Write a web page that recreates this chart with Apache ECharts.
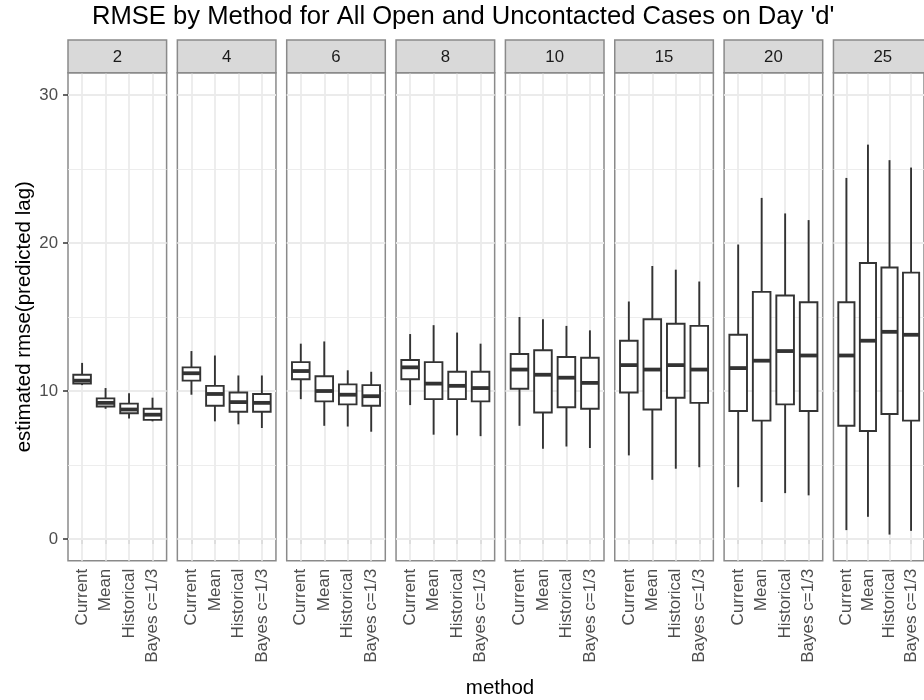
<!DOCTYPE html>
<html>
<head>
<meta charset="utf-8">
<script src="https://cdn.jsdelivr.net/npm/echarts@6/dist/echarts.min.js"></script>
<style>
html,body{margin:0;padding:0;background:#fff;}
#chart{width:924px;height:700px;}
</style>
</head>
<body>
<div id="chart"></div>
<script>
// ---- data ----
const methods = ['Current', 'Mean', 'Historical', 'Bayes c=1/3'];
const facets = ['2', '4', '6', '8', '10', '15', '20', '25'];
const yTicks = [0, 10, 20, 30];
const yMinor = [5, 15, 25];
// each row: [min whisker, Q1, median, Q3, max whisker] for Current, Mean, Historical, Bayes
const lag2  = [[10.4, 10.5, 10.7, 11.1, 11.9], [8.8, 8.95, 9.2, 9.5, 10.2], [8.15, 8.5, 8.75, 9.15, 9.85], [7.95, 8.05, 8.4, 8.8, 9.55]];
const lag4  = [[9.75, 10.7, 11.2, 11.6, 12.7], [7.95, 9.0, 9.8, 10.35, 12.4], [7.75, 8.6, 9.25, 9.9, 11.05], [7.5, 8.6, 9.2, 9.8, 11.05]];
const lag6  = [[9.45, 10.8, 11.35, 11.95, 13.2], [7.65, 9.3, 10.0, 11.0, 13.35], [7.6, 9.1, 9.75, 10.45, 11.4], [7.25, 9.0, 9.65, 10.4, 11.3]];
const lag8  = [[9.05, 10.8, 11.6, 12.1, 13.85], [7.05, 9.45, 10.5, 11.95, 14.45], [7.0, 9.45, 10.35, 11.3, 13.95], [6.95, 9.3, 10.2, 11.3, 13.2]];
const lag10 = [[7.65, 10.15, 11.45, 12.5, 15.0], [6.1, 8.55, 11.1, 12.75, 14.85], [6.25, 8.9, 10.9, 12.3, 14.4], [6.15, 8.8, 10.55, 12.25, 14.1]];
const lag15 = [[5.65, 9.9, 11.75, 13.4, 16.05], [4.0, 8.75, 11.45, 14.85, 18.45], [4.75, 9.55, 11.75, 14.55, 18.2], [4.85, 9.2, 11.45, 14.4, 17.4]];
const lag20 = [[3.5, 8.65, 11.55, 13.8, 19.9], [2.5, 8.0, 12.05, 16.7, 23.05], [3.1, 9.1, 12.7, 16.45, 22.0], [2.95, 8.65, 12.4, 16.0, 21.55]];
const lag25 = [[0.6, 7.65, 12.4, 16.0, 24.4], [1.5, 7.3, 13.4, 18.65, 26.65], [0.3, 8.45, 14.0, 18.35, 25.6], [0.55, 8.0, 13.8, 18.0, 25.1]];
const panels = [lag2, lag4, lag6, lag8, lag10, lag15, lag20, lag25];

// ---- layout / style ----
const FONT = '"Liberation Sans", Arial, Helvetica, sans-serif';
const LEFT0 = 68, STEP = 109.35, PW = 98.6, TOP = 72.7, PH = 488, STRIP_TOP = 40;
const Y_MIN = -1.466, Y_MAX = 31.51;
const BOX_W = 0.75;
const INK = '#333333';
const BORDER = '#8a8a8a';
const GRIDC = '#ebebeb';

const chart = echarts.init(document.getElementById('chart'), null, {renderer: 'canvas'});

const grids = [], xAxes = [], yAxes = [], series = [], graphics = [];

panels.forEach((pd, i) => {
  const left = LEFT0 + i * STEP;
  grids.push({left: left, top: TOP, width: PW, height: PH, show: true,
    backgroundColor: '#ffffff', borderColor: BORDER, borderWidth: 1.5, containLabel: false});
  xAxes.push({
    type: 'value', gridIndex: i, min: 0.4, max: 4.6,
    axisLine: {show: false},
    splitLine: {show: false},
    axisTick: {show: true, customValues: [1, 2, 3, 4], length: 5, lineStyle: {color: INK, width: 1.5}},
    axisLabel: {show: true, customValues: [1, 2, 3, 4], rotate: 90, margin: 8,
      formatter: v => methods[Math.round(v) - 1],
      color: '#4d4d4d', fontSize: 17, fontFamily: FONT}
  });
  yAxes.push({
    type: 'value', gridIndex: i, min: Y_MIN, max: Y_MAX,
    axisLine: {show: false},
    splitLine: {show: false},
    axisTick: {show: i === 0, customValues: yTicks, length: 5, lineStyle: {color: INK, width: 1.5}},
    axisLabel: {show: i === 0, customValues: yTicks, margin: 10,
      color: '#4d4d4d', fontSize: 16.8, fontFamily: FONT}
  });
  const lines = [];
  yTicks.forEach(v => lines.push({yAxis: v, lineStyle: {width: 1.8}}));
  yMinor.forEach(v => lines.push({yAxis: v, lineStyle: {width: 0.9}}));
  [1, 2, 3, 4].forEach(v => lines.push({xAxis: v, lineStyle: {width: 1.8}}));
  series.push({
    type: 'custom', xAxisIndex: i, yAxisIndex: i, z: 2,
    encode: {x: 0, y: [1, 2, 3, 4, 5]},
    data: pd.map((s, k) => [k + 1].concat(s)),
    renderItem: function (params, api) {
      const x = api.value(0);
      const lo = api.coord([x, api.value(1)]);
      const q1 = api.coord([x, api.value(2)]);
      const md = api.coord([x, api.value(3)]);
      const q3 = api.coord([x, api.value(4)]);
      const hi = api.coord([x, api.value(5)]);
      const w = api.size([BOX_W, 0])[0];
      return {type: 'group', children: [
        {type: 'line', shape: {x1: lo[0], y1: lo[1], x2: q1[0], y2: q1[1]}, style: {stroke: INK, lineWidth: 1.9}},
        {type: 'line', shape: {x1: q3[0], y1: q3[1], x2: hi[0], y2: hi[1]}, style: {stroke: INK, lineWidth: 1.9}},
        {type: 'rect', shape: {x: q3[0] - w / 2, y: q3[1], width: w, height: q1[1] - q3[1]}, style: {fill: '#ffffff', stroke: INK, lineWidth: 1.9}},
        {type: 'line', shape: {x1: md[0] - w / 2, y1: md[1], x2: md[0] + w / 2, y2: md[1]}, style: {stroke: INK, lineWidth: 3.8}}
      ]};
    },
    markLine: {
      z: 1, silent: true, symbol: 'none', animation: false,
      label: {show: false},
      lineStyle: {color: GRIDC, type: 'solid'},
      emphasis: {disabled: true},
      data: lines
    }
  });
  graphics.push({type: 'rect', shape: {x: left, y: STRIP_TOP, width: PW, height: TOP - STRIP_TOP},
    style: {fill: '#d9d9d9', stroke: BORDER, lineWidth: 1.5}, z: 10});
  graphics.push({type: 'text', x: left + PW / 2, y: (STRIP_TOP + TOP) / 2 + 1, z: 11,
    style: {text: facets[i], fill: '#1a1a1a', fontSize: 16.8, fontFamily: FONT, align: 'center', verticalAlign: 'middle'}});
});

graphics.push({type: 'text', x: 24, y: TOP + PH / 2, rotation: Math.PI / 2, z: 11,
  style: {text: 'estimated rmse(predicted lag)', fill: '#000', fontSize: 20.5, fontFamily: FONT, align: 'center', verticalAlign: 'middle'}});
graphics.push({type: 'text', x: LEFT0 + (7 * STEP + PW) / 2, y: 688, z: 11,
  style: {text: 'method', fill: '#000', fontSize: 20.5, fontFamily: FONT, align: 'center', verticalAlign: 'middle'}});

chart.setOption({
  animation: false,
  backgroundColor: '#ffffff',
  title: {text: "RMSE by Method for All Open and Uncontacted Cases on Day 'd'", left: 92, top: 4, padding: 0,
    textStyle: {color: '#000', fontSize: 25.6, fontWeight: 'normal', fontFamily: FONT}},
  grid: grids,
  xAxis: xAxes,
  yAxis: yAxes,
  series: series,
  graphic: {elements: graphics}
});
</script>
</body>
</html>
